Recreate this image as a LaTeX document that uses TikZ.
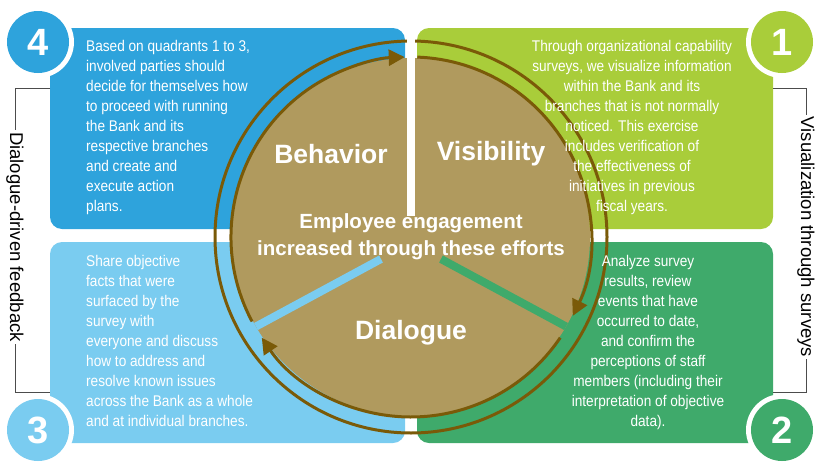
\documentclass[tikz,border=0pt]{standalone}
\usepackage{fontspec}
\setmainfont[FakeStretch=0.88]{Liberation Sans}
\newfontfamily\wide{Liberation Sans}
\usetikzlibrary{arrows.meta,calc}
\definecolor{cA}{HTML}{2EA3DC}
\definecolor{cB}{HTML}{A9CD3A}
\definecolor{cC}{HTML}{7ACCF0}
\definecolor{cD}{HTML}{3FAA6B}
\definecolor{tan}{HTML}{B09A5E}
\definecolor{brn}{HTML}{7A5A08}
\tikzset{
 box/.style={rounded corners=12pt},
 txt/.style={text=white,font=\fontsize{15.5}{20}\selectfont,inner sep=0pt},
 num/.style={circle,fill=white,minimum size=72pt,inner sep=0pt},
 numin/.style={circle,minimum size=62pt,inner sep=0pt,text=white,font=\wide\bfseries\fontsize{38}{38}\selectfont},
 ring/.style={brn,line width=3pt,-{Triangle[length=16pt,width=16pt]}},
 side/.style={font=\wide\fontsize{18.5}{18.5}\selectfont,rotate=-90,fill=white,inner sep=2pt},
 lbl/.style={text=white,font=\wide\bfseries\fontsize{26.5}{26.5}\selectfont},
}
\begin{document}
\begin{tikzpicture}[x=1pt,y=-1pt]
\useasboundingbox (0,0) rectangle (822,474);
\fill[cA,box] (50,28) rectangle (405,229);
\fill[cB,box] (417,28) rectangle (773,229);
\fill[cC,box] (50,242) rectangle (405,443);
\fill[cD,box] (417,242) rectangle (773,443);
% side brackets
\draw[black!70] (50,88) -- (15,88) -- (15,392) -- (50,392);
\draw[black!70] (773,88) -- (806,88) -- (806,392) -- (773,392);
\node[side] (sl) at (15,237) {Dialogue-driven feedback};
\node[side] (sr) at (806,237) {Visualization through surveys};
% center
\coordinate (c) at (411,237);
\draw[brn,line width=3pt] (c) circle[radius=196];
\fill[tan] (c) circle[radius=179];
\draw[white,line width=8pt] (411,36) -- (411,216);
\draw[cC,line width=8pt] ($(c)+(-30,22)$) -- ($(c)+(150:179)$);
\draw[cD,line width=8pt] ($(c)+(30,22)$) -- ($(c)+(30:179)$);
\draw[ring] ($(c)+(152:180)$) arc[start angle=152,end angle=268,radius=180];
\draw[ring] ($(c)+(272:180)$) arc[start angle=272,end angle=386,radius=180];
\draw[ring] ($(c)+(34:180)$) arc[start angle=34,end angle=146,radius=180];
\node[lbl] (beh) at (331,154) {Behavior};
\node[lbl] (vis) at (491,154) {Visibility};
\node[lbl] (dia) at (411,333) {Dialogue};
\node[text=white,font=\wide\bfseries\fontsize{20.5}{27}\selectfont,align=center] (ctr) at (411,237) {Employee engagement\\increased through these efforts};
% texts
\node[txt,align=left,anchor=north west] (t4) at (86,40) {Based on quadrants 1 to 3,\\involved parties should\\decide for themselves how\\to proceed with running\\the Bank and its\\respective branches\\and create and\\execute action\\plans.};
\node[txt,align=center,anchor=north] (t1) at (632,40) {Through organizational capability\\surveys, we visualize information\\within the Bank and its\\branches that is not normally\\noticed. This exercise\\includes verification of\\the effectiveness of\\initiatives in previous\\fiscal years.};
\node[txt,align=left,anchor=north west] (t3) at (86,255) {Share objective\\facts that were\\surfaced by the\\survey with\\everyone and discuss\\how to address and\\resolve known issues\\across the Bank as a whole\\and at individual branches.};
\node[txt,align=center,anchor=north] (t2) at (648,255) {Analyze survey\\results, review\\events that have\\occurred to date,\\and confirm the\\perceptions of staff\\members (including their\\interpretation of objective\\data).};
% numbers
\node[num] (n4o) at (38,42) {};
\node[numin,fill=cA] (n4) at (38,42) {4};
\node[num] (n1o) at (782,42) {};
\node[numin,fill=cB] (n1) at (782,42) {1};
\node[num] (n3o) at (38,430) {};
\node[numin,fill=cC] (n3) at (38,430) {3};
\node[num] (n2o) at (782,430) {};
\node[numin,fill=cD] (n2) at (782,430) {2};
\end{tikzpicture}
\end{document}
